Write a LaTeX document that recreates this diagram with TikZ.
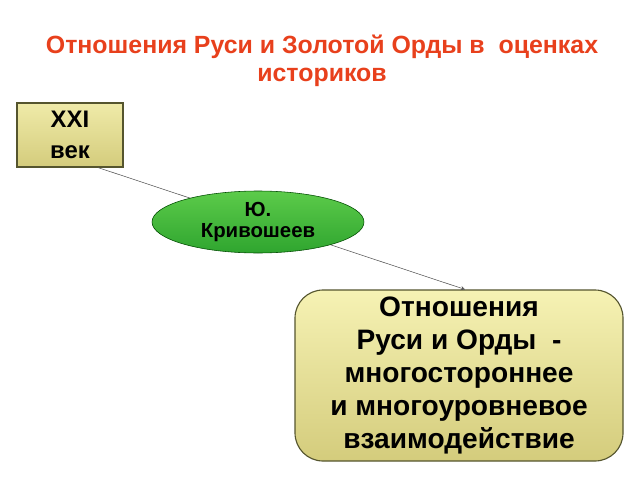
\documentclass[tikz,border=0pt]{standalone}
\usepackage{fontspec}
\setmainfont{Liberation Sans}
\usetikzlibrary{shapes.geometric,arrows.meta}
\definecolor{titlered}{HTML}{E8401C}
\definecolor{boxtop}{HTML}{F6F2B4}
\definecolor{boxbot}{HTML}{D4CC7C}
\definecolor{boxline}{HTML}{55552E}
\definecolor{greentop}{HTML}{5CCB4A}
\definecolor{greenbot}{HTML}{2FA52F}
\tikzset{
    agebox/.style={
        draw=boxline,
        thick,
        top color=boxtop!80!boxbot,
        bottom color=boxbot,
        minimum width=2.65cm,
        minimum height=1.6cm,
        align=center,
        font=\fontsize{17}{22}\selectfont\bfseries,
    },
    authornode/.style={
        draw=green!30!black,
        ellipse,
        top color=greentop,
        bottom color=greenbot,
        minimum width=5.3cm,
        minimum height=1.55cm,
        inner sep=0,
        align=center,
        font=\fontsize{14.5}{15.5}\selectfont\bfseries,
    },
    viewbox/.style={
        draw=boxline,
        thick,
        rounded corners=0.7cm,
        top color=boxtop,
        bottom color=boxbot,
        minimum width=8.2cm,
        minimum height=4.275cm,
        align=center,
        font=\fontsize{20}{23.5}\selectfont\bfseries,
    },
}
\begin{document}
\begin{tikzpicture}
            \useasboundingbox (0, 0) rectangle (16, 12) ;

            \node[text=titlered, align=center, font=\fontsize{17.7}{20}\selectfont\bfseries]
                at (8.05, 10.475) (title) {Отношения Руси и Золотой Орды в~~оценках\\историков} ;

            \node[agebox] at (1.75, 8.625) (age) {XXI\\век} ;
            \node[viewbox] at (11.475, 2.6125) (view)
                {Отношения\\Руси и Орды~~-\\многостороннее\\и многоуровневое\\взаимодействие} ;

            \draw[black!65, -{Stealth[length=3pt, width=3pt]}]
                ([xshift=0.7cm]age.south) -- ([xshift=0.15cm]view.north) ;

            \node[authornode] at (6.45, 6.45) (author) {Ю.\\Кривошеев} ;
        \end{tikzpicture}
\end{document}
